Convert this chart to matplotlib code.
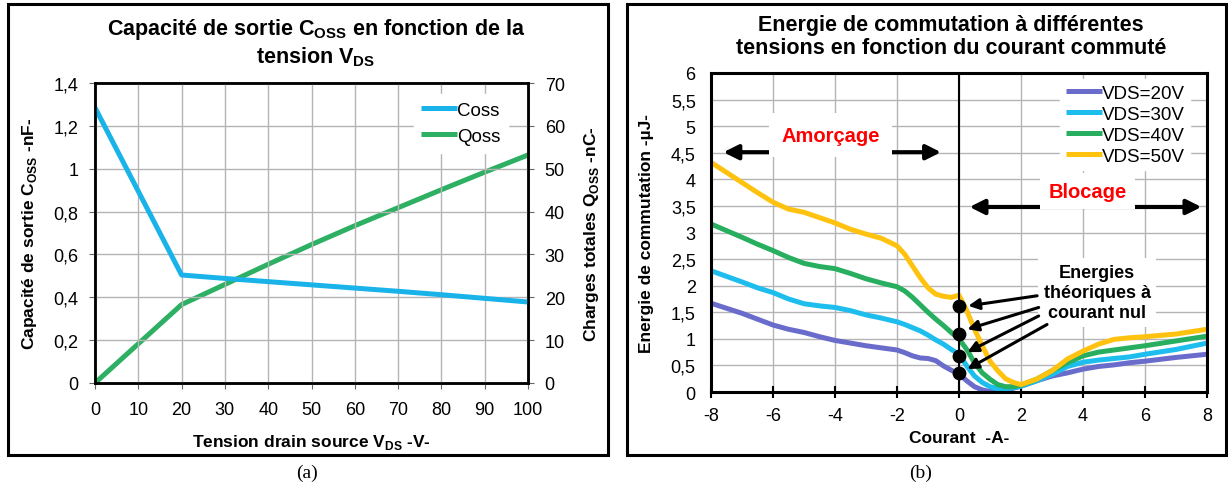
import matplotlib
matplotlib.use('Agg')
import matplotlib.pyplot as plt
from matplotlib.patches import Rectangle

plt.rcParams['font.family'] = ['Liberation Sans', 'DejaVu Sans']
plt.rcParams['mathtext.fontset'] = 'custom'
plt.rcParams['mathtext.rm'] = 'Liberation Sans'
plt.rcParams['mathtext.bf'] = 'Liberation Sans:bold'
plt.rcParams['axes.unicode_minus'] = False

# (a) Coss / Qoss vs VDS
vds = [0, 20, 30, 40, 50, 60, 70, 80, 90, 100]
coss = [1.285, 0.504, 0.488, 0.473, 0.458, 0.443, 0.428, 0.412, 0.395, 0.378]
qoss = [0.0, 18.3, 23.0, 27.7, 32.3, 36.7, 40.9, 45.1, 49.2, 53.2]

# (b) switching energy vs current
courant = [-8, -7, -6.5, -6, -5.5, -5, -4.5, -4, -3.5, -3, -2.5, -2, -1.75, -1.5, -1.25,
           -1, -0.75, -0.5, -0.25, 0, 0.25, 0.5, 0.75, 1, 1.25, 1.5, 1.75, 2, 2.5, 3,
           3.5, 4, 4.5, 5, 5.5, 6, 7, 8]
e_20v = [1.67, 1.48, 1.37, 1.26, 1.18, 1.12, 1.04, 0.97, 0.92, 0.87, 0.83, 0.79, 0.74,
         0.68, 0.64, 0.63, 0.59, 0.49, 0.41, 0.34, 0.21, 0.10, 0.04, 0.01, 0.01, 0.03,
         0.07, 0.11, 0.21, 0.30, 0.36, 0.43, 0.48, 0.51, 0.55, 0.58, 0.65, 0.71]
e_30v = [2.28, 2.07, 1.96, 1.87, 1.75, 1.66, 1.62, 1.59, 1.53, 1.45, 1.39, 1.32, 1.27,
         1.21, 1.15, 1.07, 0.98, 0.90, 0.80, 0.71, 0.49, 0.30, 0.18, 0.10, 0.06, 0.06,
         0.08, 0.11, 0.21, 0.33, 0.48, 0.56, 0.60, 0.63, 0.66, 0.71, 0.80, 0.92]
e_40v = [3.16, 2.91, 2.78, 2.66, 2.53, 2.42, 2.36, 2.32, 2.23, 2.13, 2.05, 1.98, 1.90,
         1.78, 1.64, 1.50, 1.37, 1.25, 1.12, 1.00, 0.80, 0.55, 0.36, 0.24, 0.14, 0.10,
         0.10, 0.13, 0.24, 0.40, 0.55, 0.68, 0.75, 0.79, 0.83, 0.87, 0.96, 1.05]
e_50v = [4.32, 3.94, 3.75, 3.57, 3.44, 3.38, 3.28, 3.18, 3.06, 2.97, 2.89, 2.75, 2.59,
         2.37, 2.15, 1.96, 1.84, 1.80, 1.78, 1.82, 1.53, 1.18, 0.87, 0.58, 0.40, 0.25,
         0.18, 0.14, 0.24, 0.40, 0.62, 0.77, 0.90, 0.99, 1.02, 1.04, 1.09, 1.18]
e_theo = [1.61, 1.10, 0.68, 0.35]

W, H = 1228, 489
fig = plt.figure(figsize=(W / 100, H / 100), dpi=100)


def fx(px):
    return px / W


def fy(py):
    return 1 - py / H


# panel frames
for x0, x1 in [(8, 608), (627, 1226)]:
    fig.patches.append(Rectangle((fx(x0), fy(456)), fx(x1 - x0), (456 - 5) / H,
                                 transform=fig.transFigure, fill=False,
                                 edgecolor='black', lw=2.2))

# ---------------- panel (a)
ax = fig.add_axes([fx(95), fy(384), fx(528 - 95), (384 - 84) / H])
ax2 = ax.twinx()
ax.plot(vds, coss, color='#19b3ea', lw=3.6, label='Coss', solid_capstyle='butt')
ax2.plot(vds, qoss, color='#2db063', lw=3.6, label='Qoss', solid_capstyle='butt')
ax.set_xlim(0, 100)
ax.set_ylim(0, 1.4)
ax2.set_ylim(0, 70)
ax.set_xticks(range(0, 101, 10))
ax.set_yticks([0, 0.2, 0.4, 0.6, 0.8, 1.0, 1.2, 1.4])
ax.set_yticklabels(['0', '0,2', '0,4', '0,6', '0,8', '1', '1,2', '1,4'])
ax2.set_yticks(range(0, 71, 10))
ax.grid(True, color='#b4b4b4', lw=1)
ax.set_axisbelow(True)
for a in (ax, ax2):
    a.tick_params(labelsize=13, length=4, color='#666666', pad=8)
    for s in a.spines.values():
        s.set_linewidth(1.8)
ax.tick_params(axis='x', pad=9)
ax.set_zorder(ax2.get_zorder() + 1)
ax.patch.set_visible(False)
ax.set_xlabel(r'Tension drain source V$_{\mathbf{DS}}$ -V-', fontsize=12.5,
              fontweight='bold', labelpad=10)
ax.set_ylabel(r'Capacité de sortie C$_{\mathbf{OSS}}$ -nF-', fontsize=12.5,
              fontweight='bold', labelpad=10)
ax2.set_ylabel(r'Charges totales Q$_{\mathbf{OSS}}$ -nC-', fontsize=12.5,
               fontweight='bold', labelpad=12)
h1, l1 = ax.get_legend_handles_labels()
h2, l2 = ax2.get_legend_handles_labels()
ax.legend(h1 + h2, l1 + l2, loc='upper right', bbox_to_anchor=(0.975, 0.995),
          fontsize=13.5, frameon=True, fancybox=False, edgecolor='white',
          framealpha=1, handlelength=1.9, handletextpad=0.0, borderpad=0.4,
          labelspacing=0.5)

fig.text(fx(316), fy(30), r'Capacité de sortie C$_{\mathbf{OSS}}$ en fonction de la',
         ha='center', va='center', fontsize=15.5, fontweight='bold')
fig.text(fx(316), fy(57), r'tension V$_{\mathbf{DS}}$',
         ha='center', va='center', fontsize=15.5, fontweight='bold')
fig.text(fx(307), fy(473), '(a)', ha='center', va='center', fontsize=14,
         family='Liberation Serif')

# ---------------- panel (b)
bx = fig.add_axes([fx(711), fy(393), fx(1207 - 711), (393 - 74) / H])
series = [(e_20v, '#6a6ccc', 'VDS=20V'), (e_30v, '#1dbdee', 'VDS=30V'),
          (e_40v, '#27ae5f', 'VDS=40V'), (e_50v, '#ffc20e', 'VDS=50V')]
for vals, col, lab in series:
    bx.plot(courant, vals, color=col, lw=3.6, label=lab,
            solid_joinstyle='round', solid_capstyle='butt')
bx.axvline(0, color='black', lw=1.5, zorder=2.5)
bx.scatter([0] * len(e_theo), e_theo, s=80, color='black', zorder=5)
bx.set_xlim(-8, 8)
bx.set_ylim(0, 6)
bx.set_xticks(range(-8, 9, 2))
bx.set_yticks([i * 0.5 for i in range(13)])
bx.set_yticklabels(['0', '0,5', '1', '1,5', '2', '2,5', '3', '3,5', '4', '4,5', '5', '5,5', '6'])
bx.grid(True, color='#b4b4b4', lw=1)
bx.set_axisbelow(True)
bx.tick_params(labelsize=13, pad=11)
bx.tick_params(axis='x', direction='inout', length=8, width=1.5, pad=7)
bx.tick_params(axis='y', length=0)
for s in bx.spines.values():
    s.set_linewidth(2.2)
bx.set_xlabel('Courant  -A-', fontsize=12.5, fontweight='bold', labelpad=4)
bx.set_ylabel('Energie de commutation -µJ-', fontsize=12.5, fontweight='bold', labelpad=12)
bx.legend(loc='upper right', bbox_to_anchor=(0.985, 1.01), fontsize=13.5, frameon=True,
          fancybox=False, edgecolor='white', framealpha=1, handlelength=1.9,
          handletextpad=0.0, borderpad=0.3, labelspacing=0.2)

arrow2 = dict(arrowstyle='<|-|>', lw=3, color='black', mutation_scale=22, shrinkA=0, shrinkB=0)
bx.annotate('', xy=(-0.58, 4.51), xytext=(-7.6, 4.51), arrowprops=arrow2)
bx.annotate('', xy=(7.82, 3.48), xytext=(0.34, 3.48), arrowprops=arrow2)
bx.text(-4.15, 4.83, 'Amorçage', color='#ff0000', fontsize=14.5, fontweight='bold',
        ha='center', va='center',
        bbox=dict(facecolor='white', edgecolor='none', pad=9))
bx.text(4.14, 3.78, 'Blocage', color='#ff0000', fontsize=14.5, fontweight='bold',
        ha='center', va='center',
        bbox=dict(facecolor='white', edgecolor='none', pad=6))

arrow1 = dict(arrowstyle='-|>', lw=2.2, color='black', mutation_scale=16, shrinkA=0, shrinkB=0)
starts = [(2.52, 1.81), (2.57, 1.59), (2.57, 1.43), (2.84, 1.27)]
ends = [(0.30, 1.62), (0.27, 1.18), (0.27, 0.75), (0.27, 0.43)]
for st, en in zip(starts, ends):
    bx.annotate('', xy=en, xytext=st, arrowprops=arrow1, zorder=6)
bx.text(4.46, 1.87, 'Energies\nthéoriques à\ncourant nul', fontsize=13, fontweight='bold',
        ha='center', va='center', linespacing=1.25,
        bbox=dict(facecolor='white', edgecolor='none', pad=4), zorder=4)

fig.text(fx(951), fy(25), 'Energie de commutation à différentes',
         ha='center', va='center', fontsize=15.5, fontweight='bold')
fig.text(fx(951), fy(48), 'tensions en fonction du courant commuté',
         ha='center', va='center', fontsize=15.5, fontweight='bold')
fig.text(fx(921), fy(473), '(b)', ha='center', va='center', fontsize=14,
         family='Liberation Serif')

fig.savefig('out.png', dpi=100)
